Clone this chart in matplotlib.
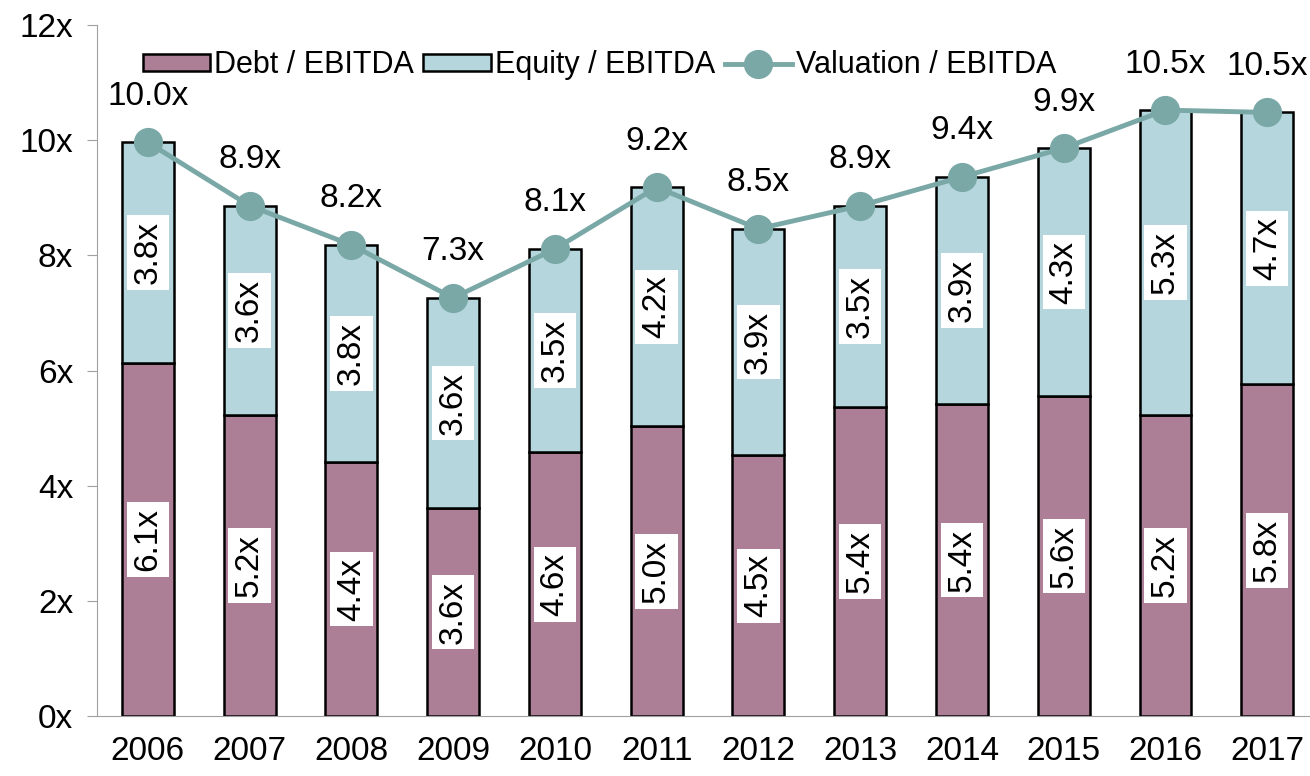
import matplotlib.pyplot as plt
import numpy as np

plt.rcParams['font.family'] = ['Liberation Sans Narrow', 'Liberation Sans', 'DejaVu Sans']

years = ['2006', '2007', '2008', '2009', '2010', '2011', '2012', '2013', '2014', '2015', '2016', '2017']
debt = [6.13, 5.23, 4.41, 3.61, 4.58, 5.03, 4.53, 5.37, 5.42, 5.56, 5.23, 5.76]
equity = [3.83, 3.63, 3.77, 3.65, 3.53, 4.15, 3.93, 3.49, 3.94, 4.30, 5.29, 4.72]
valuation = [9.96, 8.86, 8.18, 7.26, 8.11, 9.18, 8.46, 8.86, 9.36, 9.86, 10.52, 10.48]

debt_color = '#ad7f96'
equity_color = '#b4d6dc'
line_color = '#7aa8a6'

fig = plt.figure(figsize=(13.1, 7.76), dpi=100)
ax = fig.add_axes([0.074, 0.077, 0.926, 0.891])

x = np.arange(len(years))
w = 0.51
b1 = ax.bar(x, debt, w, color=debt_color, edgecolor='black', linewidth=1.8,
            label='Debt / EBITDA', zorder=2)
b2 = ax.bar(x, equity, w, bottom=debt, color=equity_color, edgecolor='black',
            linewidth=1.8, label='Equity / EBITDA', zorder=2)
l1, = ax.plot(x, valuation, color=line_color, linewidth=3.5, marker='o',
              markersize=20, label='Valuation / EBITDA', zorder=3)

fs = 24
for i in range(len(years)):
    ax.text(x[i], debt[i] / 2, f'{debt[i]:.1f}x', rotation=90, ha='center',
            va='center', fontsize=fs, zorder=4,
            bbox=dict(facecolor='white', edgecolor='none', pad=4))
    ax.text(x[i], debt[i] + equity[i] / 2, f'{equity[i]:.1f}x', rotation=90,
            ha='center', va='center', fontsize=fs, zorder=4,
            bbox=dict(facecolor='white', edgecolor='none', pad=4))
    ax.annotate(f'{valuation[i]:.1f}x', (x[i], valuation[i]),
                xytext=(0, 22), textcoords='offset points', ha='center',
                va='bottom', fontsize=fs, zorder=4)

ax.set_xlim(-0.5, 11.42)
ax.set_ylim(0, 12)
ax.set_yticks(range(0, 13, 2))
ax.set_yticklabels([f'{v}x' for v in range(0, 13, 2)], fontsize=fs)
ax.set_xticks(x)
ax.set_xticklabels(years, fontsize=fs)
for s in ['top', 'right']:
    ax.spines[s].set_visible(False)
ax.spines['left'].set_color('#a0a0a0')
ax.spines['bottom'].set_color('#a0a0a0')
ax.tick_params(axis='y', length=7, color='#a0a0a0', pad=10)
ax.tick_params(axis='x', length=0, pad=14)

ax.legend(handles=[b1, b2, l1], loc='upper left', bbox_to_anchor=(0.025, 0.985),
          ncol=3, frameon=False, fontsize=22, handlelength=2.2, handleheight=0.5,
          handletextpad=0.15, columnspacing=0.3, borderaxespad=0.1)

fig.savefig('out.png', dpi=100)
